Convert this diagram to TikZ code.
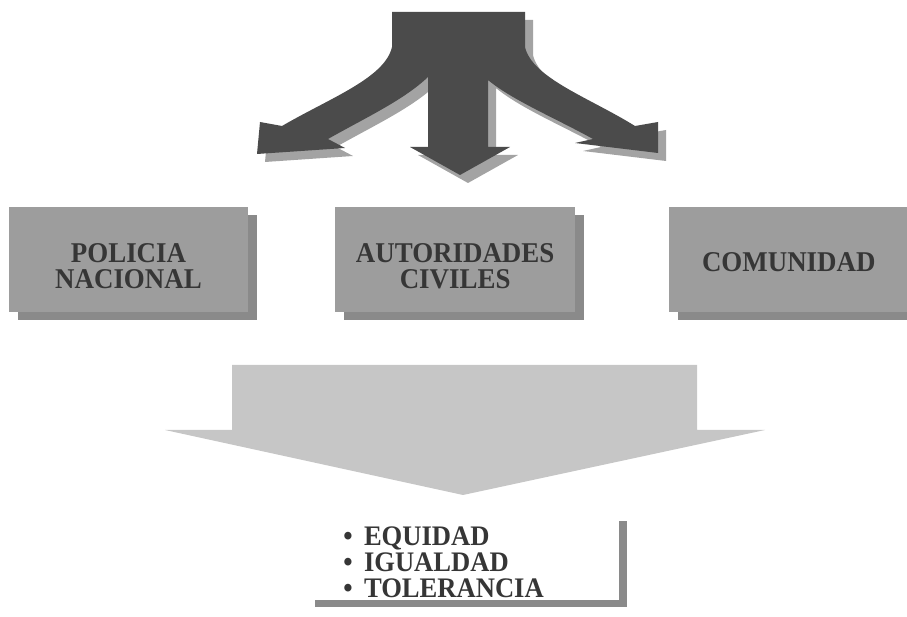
\documentclass[tikz,border=0pt]{standalone}
\usepackage{fontspec}
\setmainfont{Liberation Serif}
\newfontfamily\tallfont{Liberation Serif}[FakeStretch=0.94]
\usepackage{tikz}
\usetikzlibrary{positioning}
\usetikzlibrary{shadows}
\definecolor{fandark}{HTML}{4B4B4B}
\definecolor{fanshade}{HTML}{A3A3A3}
\definecolor{boxgray}{HTML}{9D9D9D}
\definecolor{boxshade}{HTML}{8A8A8A}
\definecolor{boxtext}{HTML}{363636}
\definecolor{biglight}{HTML}{C6C6C6}
\tikzstyle{actor} = [fill=boxgray,minimum width=4.8cm,minimum height=2.12cm,align=center,text=boxtext,font=\tallfont\bfseries\fontsize{16.3}{14.9}\selectfont,general shadow={fill=boxshade,shadow xshift=0.18cm,shadow yshift=-0.16cm}]
\tikzstyle{fan} = [fill=fandark,general shadow={fill=fanshade,shadow xshift=0.16cm,shadow yshift=-0.16cm}]
\tikzstyle{valuebox} = [fill=white,anchor=west,minimum width=6.24cm,minimum height=1.72cm,general shadow={fill=boxshade,shadow xshift=0.16cm,shadow yshift=-0.14cm}]
\tikzstyle{valuetext} = [inner sep=0pt,anchor=north west,align=left,text=boxtext,font=\tallfont\bfseries\fontsize{16.1}{14.8}\selectfont]

\begin{document}
\begin{tikzpicture}[x=0.02cm,y=-0.02cm]
	\useasboundingbox (0,0) rectangle (907,617);

	%Fan arrow
	\fill[fan] (392,12) -- (525,12) -- (525,47)
		.. controls (532,78) and (590,98) .. (635,126)
		-- (658,122) -- (658,153) -- (575,143) -- (593,139)
		.. controls (555,118) and (512,100) .. (488,80)
		-- (488,147) -- (510,147) -- (460,175) -- (410,147) -- (428,147) -- (428,77)
		.. controls (404,100) and (365,118) .. (328,139)
		-- (345,148) -- (257,154) -- (260,122) -- (282,126)
		.. controls (330,98) and (385,78) .. (392,47) -- cycle;

	%Nodes
	\node [actor] at (128.5,259.5) (Policia) {\rule{0pt}{0.65cm}POLICIA\\NACIONAL};
	\node [actor, right=1.72cm of Policia] (Autoridades) {\rule{0pt}{0.65cm}AUTORIDADES\\CIVILES};
	\node [actor, right=1.86cm of Autoridades] (Comunidad) {\rule{0pt}{0.5cm}COMUNIDAD};

	%Big arrow
	\fill[biglight] (232,365) -- (697,365) -- (697,430) -- (765,430) -- (463,495) -- (165,430) -- (232,430) -- cycle;

	%Values
	\node [valuebox] at (307,557) (Marco) {};
	\node [valuetext, below right=0.26cm and 0.72cm of Marco.north west] (Valores) {\textbullet{}\, EQUIDAD\\\textbullet{}\, IGUALDAD\\\textbullet{}\, TOLERANCIA};

\end{tikzpicture}
\end{document}
